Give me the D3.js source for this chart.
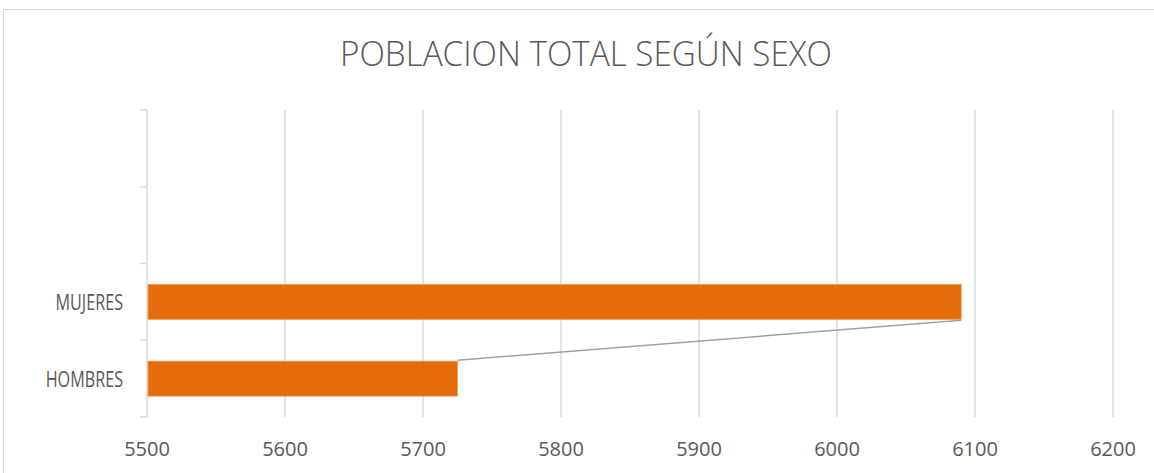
<!DOCTYPE html>
<html>
<head>
<meta charset="utf-8">
<script src="https://cdn.jsdelivr.net/npm/d3@7"></script>
<style>
  body { margin: 0; background: #fff; }
  text { font-family: "Open Sans", "DejaVu Sans", sans-serif; fill: #595959; }
</style>
</head>
<body>
<div id="chart-area"></div>
<script>
// chart data
var categories = ["", "", "MUJERES", "HOMBRES"];
var values = [null, null, 6090, 5725];
var xTicks = [5500, 5600, 5700, 5800, 5900, 6000, 6100, 6200];
var title = "POBLACION TOTAL SEGÚN SEXO";

var width = 1154, height = 473;
var plotLeft = 147, plotRight = 1113, plotTop = 110, plotBottom = 417;

var svg = d3.select("#chart-area")
  .append("svg")
    .attr("width", width)
    .attr("height", height);

// chart frame
svg.append("rect")
  .attr("x", 3.5).attr("y", 9.5)
  .attr("width", width).attr("height", height)
  .attr("fill", "none")
  .attr("stroke", "#d9d9d9");

svg.append("text")
  .attr("x", 586).attr("y", 66)
  .attr("text-anchor", "middle")
  .attr("font-size", 34)
  .attr("font-weight", 300)
  .attr("textLength", 492)
  .attr("lengthAdjust", "spacingAndGlyphs")
  .text(title);

var x = d3.scaleLinear()
  .domain([5500, 6200])
  .range([plotLeft, plotRight]);

var y = d3.scaleBand()
  .domain(d3.range(categories.length))
  .range([plotTop, plotBottom])
  .paddingInner(0.545)
  .paddingOuter(0.2725);

// vertical gridlines
svg.append("g")
  .selectAll("line")
  .data(xTicks.slice(1))
  .enter()
  .append("line")
    .attr("x1", function(d) { return x(d); })
    .attr("x2", function(d) { return x(d); })
    .attr("y1", plotTop).attr("y2", plotBottom)
    .attr("stroke", "#d9d9d9")
    .attr("stroke-width", 1.5);

// y axis, ticks sit on band boundaries
var yAxis = svg.append("g");
yAxis.append("line")
  .attr("x1", plotLeft).attr("x2", plotLeft)
  .attr("y1", plotTop).attr("y2", plotBottom)
  .attr("stroke", "#d9d9d9")
  .attr("stroke-width", 1.5);
yAxis.selectAll(".tick")
  .data(d3.range(categories.length + 1))
  .enter()
  .append("line")
    .attr("x1", plotLeft - 7).attr("x2", plotLeft)
    .attr("y1", function(i) { return plotTop + i * y.step(); })
    .attr("y2", function(i) { return plotTop + i * y.step(); })
    .attr("stroke", "#d9d9d9")
    .attr("stroke-width", 1.5);
yAxis.selectAll("text")
  .data(categories)
  .enter()
  .append("text")
    .attr("x", 123)
    .attr("y", function(d, i) { return y(i) + y.bandwidth() / 2 + 8; })
    .attr("text-anchor", "end")
    .attr("font-size", 21)
    .text(function(d) { return d; })
    .each(function(d) {
      // squeeze a bit, the original font is narrower
      if (d) {
        var w = this.getComputedTextLength();
        d3.select(this).attr("textLength", w * 0.77).attr("lengthAdjust", "spacingAndGlyphs");
      }
    });

// x tick labels
svg.append("g")
  .selectAll("text")
  .data(xTicks)
  .enter()
  .append("text")
    .attr("x", function(d) { return x(d); })
    .attr("y", 456)
    .attr("text-anchor", "middle")
    .attr("font-size", 20)
    .text(function(d) { return d; });

var barData = categories.map(function(c, i) { return { i: i, name: c, value: values[i] }; })
  .filter(function(d) { return d.value != null; });

// series line joining the bar ends
var upper = barData[0], lower = barData[1];
svg.append("line")
  .attr("x1", x(lower.value)).attr("y1", y(lower.i) - 1)
  .attr("x2", x(upper.value)).attr("y2", y(upper.i) + y.bandwidth() + 1)
  .attr("stroke", "#a0a0a0")
  .attr("stroke-width", 1.5);

svg.append("g")
  .selectAll("rect")
  .data(barData)
  .enter()
  .append("rect")
    .attr("x", plotLeft + 1)
    .attr("y", function(d) { return y(d.i); })
    .attr("width", function(d) { return x(d.value) - plotLeft - 1; })
    .attr("height", y.bandwidth())
    .attr("fill", "#e46c0a")
    .attr("stroke", "#f39a4c")
    .attr("stroke-width", 0.8);
</script>
</body>
</html>
